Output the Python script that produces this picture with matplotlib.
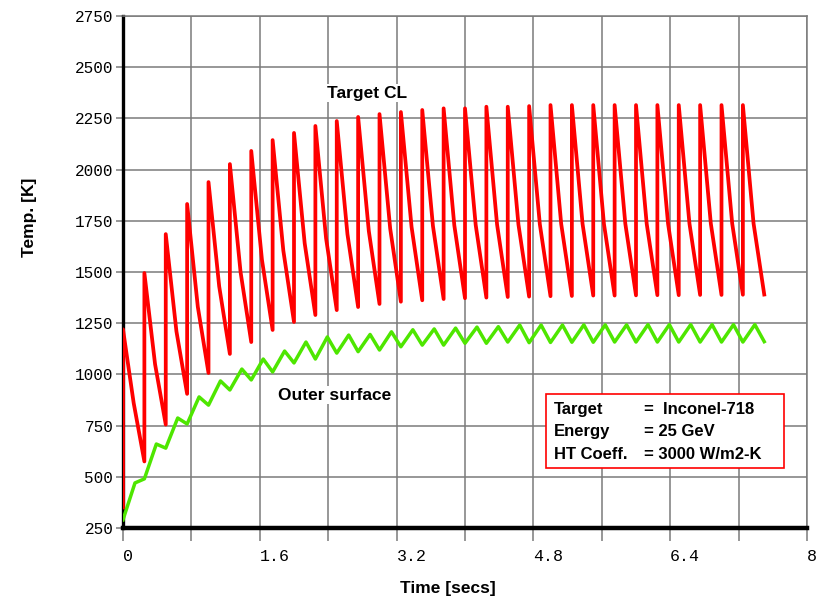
import matplotlib
matplotlib.use('Agg')
import matplotlib.pyplot as plt
from matplotlib.patches import Rectangle

# pulse times [s] (one beam pulse every 0.25 s)
pulse_times = [0.0, 0.25, 0.5, 0.75, 1.0, 1.25, 1.5, 1.75, 2.0, 2.25,
               2.5, 2.75, 3.0, 3.25, 3.5, 3.75, 4.0, 4.25, 4.5, 4.75,
               5.0, 5.25, 5.5, 5.75, 6.0, 6.25, 6.5, 6.75, 7.0, 7.25]
end_time = 7.5

# target centre line: start temp, peak after each pulse, value half-way, value before next pulse
cl_start = 350
cl_mid_lag = 0.125
cl_peaks = [1220, 1495, 1685, 1832, 1939, 2027, 2091, 2144, 2179, 2213,
            2237, 2257, 2271, 2281, 2291, 2299, 2299, 2307, 2307, 2310,
            2315, 2315, 2315, 2315, 2315, 2315, 2315, 2315, 2315, 2315]
cl_mids = [860, 1050, 1210, 1330, 1430, 1500, 1560, 1605, 1640, 1665,
           1685, 1700, 1712, 1720, 1725, 1728, 1730, 1732, 1732, 1734,
           1735, 1735, 1735, 1736, 1736, 1736, 1737, 1737, 1737, 1737]
cl_troughs = [575, 755, 905, 1007, 1100, 1158, 1217, 1256, 1290, 1314,
              1329, 1344, 1355, 1362, 1368, 1372, 1375, 1378, 1380, 1382,
              1383, 1385, 1385, 1386, 1387, 1387, 1388, 1388, 1389, 1390]

# outer surface: value at each pulse time, local max shortly after
outer_lag = 0.14
outer_mins = [290, 490, 640, 758, 850, 924, 973, 1012, 1056, 1075,
              1104, 1111, 1119, 1135, 1143, 1143, 1152, 1152, 1158, 1155,
              1156, 1157, 1157, 1158, 1158, 1158, 1158, 1158, 1158, 1158]
outer_peaks = [470, 660, 787, 890, 968, 1026, 1075, 1114, 1158, 1183,
               1192, 1195, 1208, 1218, 1222, 1226, 1231, 1233, 1241, 1241,
               1241, 1242, 1242, 1242, 1243, 1243, 1243, 1243, 1243, 1243]
outer_end = 1160

x_ticks = [0, 0.8, 1.6, 2.4, 3.2, 4.0, 4.8, 5.6, 6.4, 7.2, 8.0]
x_labels = ['0', '', '1.6', '', '3.2', '', '4.8', '', '6.4', '', '8']
y_ticks = [250, 500, 750, 1000, 1250, 1500, 1750, 2000, 2250, 2500, 2750]

GRID = '#7a7a7a'

fig = plt.figure(figsize=(8.29, 6.04), dpi=100)
ax = fig.add_axes([123 / 829, 76 / 604, 684 / 829, 512 / 604])

# build the saw-tooth curves
next_times = pulse_times[1:] + [end_time]
cl_x, cl_y = [0.0], [cl_start]
for t, tn, pk, md, tr in zip(pulse_times, next_times, cl_peaks, cl_mids, cl_troughs):
    cl_x += [t, t + cl_mid_lag, tn]
    cl_y += [pk, md, tr]

os_x, os_y = [], []
for t, lo, hi in zip(pulse_times, outer_mins, outer_peaks):
    os_x += [t, t + outer_lag]
    os_y += [lo, hi]
os_x.append(end_time)
os_y.append(outer_end)

ax.plot(cl_x, cl_y, color='#ff0000', lw=2.7, zorder=3)
ax.plot(os_x, os_y, color='#4ee600', lw=2.5, zorder=3)

ax.set_xlim(0, 8)
ax.set_ylim(250, 2750)
ax.set_xticks(x_ticks)
ax.set_xticklabels(x_labels, family='Liberation Mono', fontsize=12, ha='left')
ax.set_yticks(y_ticks)
ax.set_yticklabels([str(v) for v in y_ticks], family='Liberation Mono', fontsize=11.5)
ax.tick_params(axis='x', length=9, width=1.1, color=GRID, pad=6)
ax.tick_params(axis='y', length=5, width=1.1, color=GRID, pad=2)
ax.grid(True, color=GRID, lw=1.1)
ax.set_axisbelow(True)

ax.spines['left'].set_linewidth(2.4)
ax.spines['left'].set_color('black')
ax.spines['bottom'].set_linewidth(3.2)
ax.spines['bottom'].set_color('black')
for s in ('top', 'right'):
    ax.spines[s].set_color(GRID)
    ax.spines[s].set_linewidth(1.1)

ax.text(2.85, 2374, 'Target CL', fontsize=12.5, fontweight='bold', family='Liberation Sans',
        ha='center', va='center', zorder=4,
        bbox=dict(facecolor='white', edgecolor='none', pad=1))
ax.text(2.48, 899, 'Outer surface', fontsize=12.5, fontweight='bold', family='Liberation Sans',
        ha='center', va='center', zorder=4,
        bbox=dict(facecolor='white', edgecolor='none', pad=1))

# info box
ax.add_patch(Rectangle((4.95, 543), 2.78, 361, facecolor='white', edgecolor='#ff0000',
                       lw=1.2, zorder=4))
rows = [('Target', '=  Inconel-718'), ('Energy', '= 25 GeV'), ('HT Coeff.', '= 3000 W/m2-K')]
for i, (k, v) in enumerate(rows):
    y = 829 - i * 110
    ax.text(5.04, y, k, fontsize=12, fontweight='bold', family='Liberation Sans',
            ha='left', va='center', zorder=5)
    ax.text(6.09, y, v, fontsize=12, fontweight='bold', family='Liberation Sans',
            ha='left', va='center', zorder=5)

fig.text(448 / 829, 1 - 588 / 604, 'Time [secs]', fontsize=12.5, fontweight='bold',
         family='Liberation Sans', ha='center', va='center')
fig.text(30 / 829, 1 - 217 / 604, 'Temp. [K]', fontsize=12.5, fontweight='bold',
         family='Liberation Sans', rotation=90, ha='center', va='center')

fig.savefig('out.png', dpi=100)
